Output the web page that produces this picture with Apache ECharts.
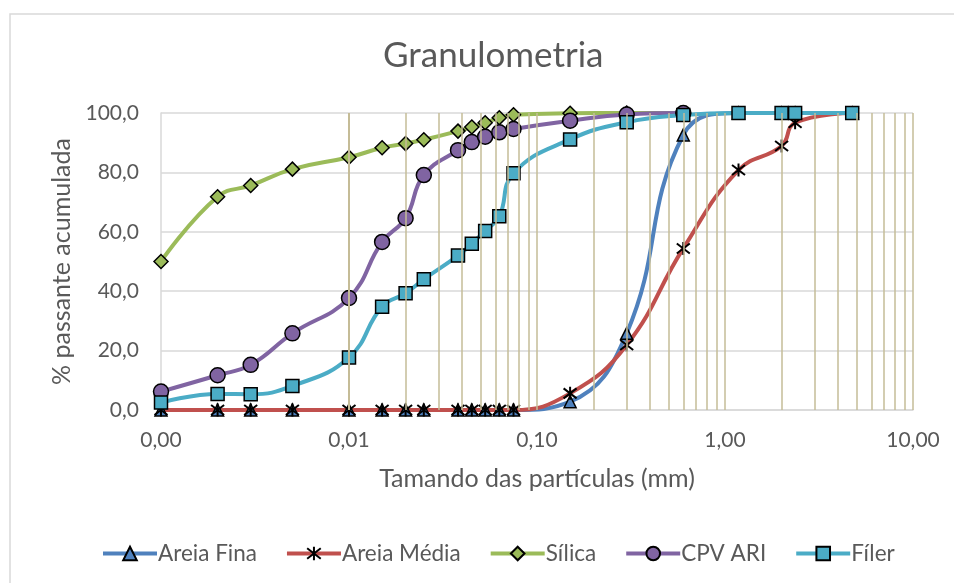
<!DOCTYPE html>
<html>
<head>
<meta charset="utf-8">
<script src="https://cdn.jsdelivr.net/npm/echarts@6/dist/echarts.min.js"></script>
<style>
html,body{margin:0;padding:0;background:#fff;}
#chart{width:954px;height:583px;}
</style>
</head>
<body>
<div id="chart"></div>
<script>
// Sieve sizes (mm)
const sizes = [0.001,0.002,0.003,0.005,0.01,0.015,0.02,0.025,0.038,0.045,0.053,0.063,0.075,0.15,0.3,0.6,1.18,2.0,2.36,4.75];
// % passante acumulada
const areiaFina  = [0,0,0,0,0,0,0,0,0,0,0,0,0,2.8,25.8,92.6,100,100,100,100];
const areiaMedia = [0,0,0,0,0,0,0,0,0,0,0,0,0,5.6,21.9,54.4,80.8,88.9,96.7,100];
const silica     = [50.0,71.8,75.6,81.1,85.1,88.3,89.7,91.0,93.9,95.3,96.7,98.4,99.4,99.9,100,100];
const cpvAri     = [6.2,11.7,15.2,25.8,37.7,56.6,64.6,79.1,87.5,90.2,92.0,93.5,94.6,97.4,99.5,100];
const filer      = [2.5,5.4,5.3,8.1,17.7,34.8,39.3,44.0,52.0,56.0,60.3,65.2,79.7,91.1,96.9,99.3,100,100,100,100];
const seriesNames = ['Areia Fina','Areia Média','Sílica','CPV ARI','Fíler'];
// vertical grid positions (log minor lines)
const vLines = [0.002,0.003,0.004,0.005,0.006,0.007,0.008,0.009,0.01,
  0.02,0.03,0.04,0.05,0.06,0.07,0.08,0.09,0.1,
  0.2,0.3,0.4,0.5,0.6,0.7,0.8,0.9,1,
  2,3,4,5,6,7,8,9,10];

const FONT = 'Lato';
const TXT = '#595959';
function pairs(arr){ return arr.map((v,i)=>[sizes[i], v]); }
const starPath = 'path://M0,0L10,10M10,0L0,10M5,-1.5L5,11.5';

function mk(name, data, color, symbol, fill, size){
  return {
    name: name, type: 'line', data: pairs(data), smooth: 0.45, z: 3,
    symbol: symbol, symbolSize: size, showAllSymbol: true,
    lineStyle: {color: color, width: 4},
    itemStyle: {color: fill, borderColor: '#000', borderWidth: 1.5},
    emphasis: {disabled: true}
  };
}

const chart = echarts.init(document.getElementById('chart'));
chart.setOption({
  animation: false,
  backgroundColor: '#fff',
  textStyle: {fontFamily: FONT},
  graphic: [{type:'rect', shape:{x:10,y:14,width:1000,height:700}, style:{fill:'none', stroke:'#d9d9d9', lineWidth:1.5}, silent:true, z:-10}],
  title: {
    text: 'Granulometria', left: 378, top: 33,
    textStyle: {fontFamily: FONT, fontSize: 35, fontWeight: 'normal', color: TXT}
  },
  legend: {
    data: seriesNames, top: 537, left: 96,
    itemWidth: 54, itemHeight: 17, itemGap: 28,
    lineStyle: {width: 4},
    textStyle: {fontFamily: FONT, fontSize: 22.5, color: TXT, padding: [0,0,0,-4]}
  },
  grid: {left: 161, top: 113, width: 752, height: 297, containLabel: false},
  xAxis: {
    type: 'log', logBase: 10, min: 0.001, max: 10,
    name: 'Tamando das partículas (mm)', nameLocation: 'middle', nameGap: 56,
    nameTextStyle: {fontFamily: FONT, fontSize: 25, color: TXT},
    axisLine: {lineStyle: {color: '#d9d9d9', width: 1.5}},
    axisTick: {show: false},
    splitLine: {show: false},
    axisLabel: {fontFamily: FONT, fontSize: 21, color: TXT, margin: 20,
      formatter: v => v.toFixed(2).replace('.', ',')}
  },
  yAxis: {
    type: 'value', min: 0, max: 100, interval: 20,
    name: '% passante acumulada', nameLocation: 'middle', nameGap: 84, nameRotate: 90,
    nameTextStyle: {fontFamily: FONT, fontSize: 25, color: TXT},
    axisLine: {show: true, lineStyle: {color: '#d9d9d9', width: 1.5}},
    axisTick: {show: false},
    splitLine: {lineStyle: {color: '#d9d9d9', width: 1.5}},
    axisLabel: {fontFamily: FONT, fontSize: 21, color: TXT, margin: 22,
      formatter: v => v.toFixed(1).replace('.', ',')}
  },
  series: [
    {
      name: '_grid', type: 'line', data: [], z: 1, silent: true,
      markLine: {
        silent: true, symbol: ['none','none'], label: {show: false},
        lineStyle: {color: '#c4bd97', width: 1.5, type: 'solid'},
        emphasis: {disabled: true},
        data: vLines.map(v => ({xAxis: v}))
      }
    },
    mk('Areia Fina', areiaFina, '#4F81BD', 'triangle', '#4F81BD', 12),
    Object.assign(mk('Areia Média', areiaMedia, '#C0504D', starPath, '#000', 13), {itemStyle:{color:'#000', borderColor:'#000', borderWidth:2}}),
    mk('Sílica', silica, '#9BBB59', 'diamond', '#9BBB59', 14),
    mk('CPV ARI', cpvAri, '#8064A2', 'circle', '#8064A2', 15),
    mk('Fíler', filer, '#4BACC6', 'rect', '#4BACC6', 13)
  ]
});
</script>
</body>
</html>
